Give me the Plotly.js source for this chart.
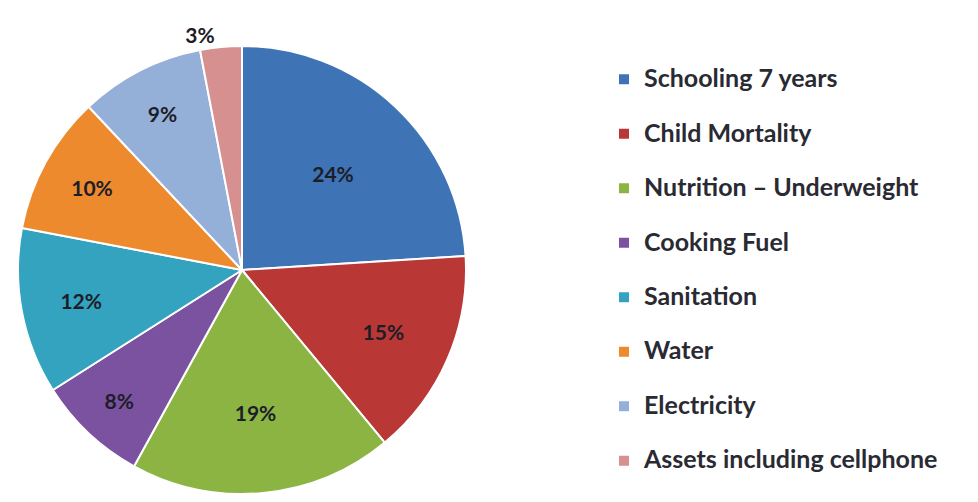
<!DOCTYPE html>
<html>
<head>
<meta charset="utf-8">
<script src="https://cdn.plot.ly/plotly-3.0.1.min.js"></script>
<style>html,body{margin:0;padding:0;background:#fff;}#chart{width:978px;height:502px;}</style>
</head>
<body>
<div id="chart"></div>
<script>
const categories = ["Schooling 7 years", "Child Mortality", "Nutrition \u2013 Underweight", "Cooking Fuel", "Sanitation", "Water", "Electricity", "Assets including cellphone"];
const values = [24, 15, 19, 8, 12, 10, 9, 3];
const colors = ["#3E73B6", "#B93835", "#8CB443", "#7B52A0", "#33A3BF", "#EE8A2E", "#95B0D8", "#D6908F"];
const textPositions = ["inside", "inside", "inside", "inside", "inside", "inside", "inside", "outside"];

const legendLabels = categories.map((c, i) =>
  '<span style="font-size:25px">' + c + '</span>' + (i < categories.length - 1 ? '<br>\u00a0' : ''));

const trace = {
  type: "pie",
  labels: legendLabels,
  values: values,
  sort: false,
  direction: "clockwise",
  rotation: 0,
  marker: {colors: colors, line: {color: "#ffffff", width: 2}},
  texttemplate: "%{percent:.0%}",
  textposition: textPositions,
  insidetextorientation: "horizontal",
  textfont: {family: "Lato, 'DejaVu Sans', sans-serif", size: 21, weight: "bold", color: "#1d1d28"},
  hoverinfo: "label+percent",
  domain: {x: [18/978, 466/978], y: [1 - 494/502, 1 - 46/502]}
};

const layout = {
  width: 978, height: 502,
  margin: {l: 0, r: 0, t: 0, b: 0},
  paper_bgcolor: "#ffffff",
  showlegend: true,
  legend: {
    x: 604/978, y: 1 - 60/502, xanchor: "left", yanchor: "top",
    valign: "top",
    font: {family: "Lato, 'DejaVu Sans', sans-serif", size: 19.8, weight: "bold", color: "#2a2a33"},
    bgcolor: "rgba(0,0,0,0)"
  }
};

Plotly.newPlot("chart", [trace], layout, {displayModeBar: false, staticPlot: true});
</script>
</body>
</html>
